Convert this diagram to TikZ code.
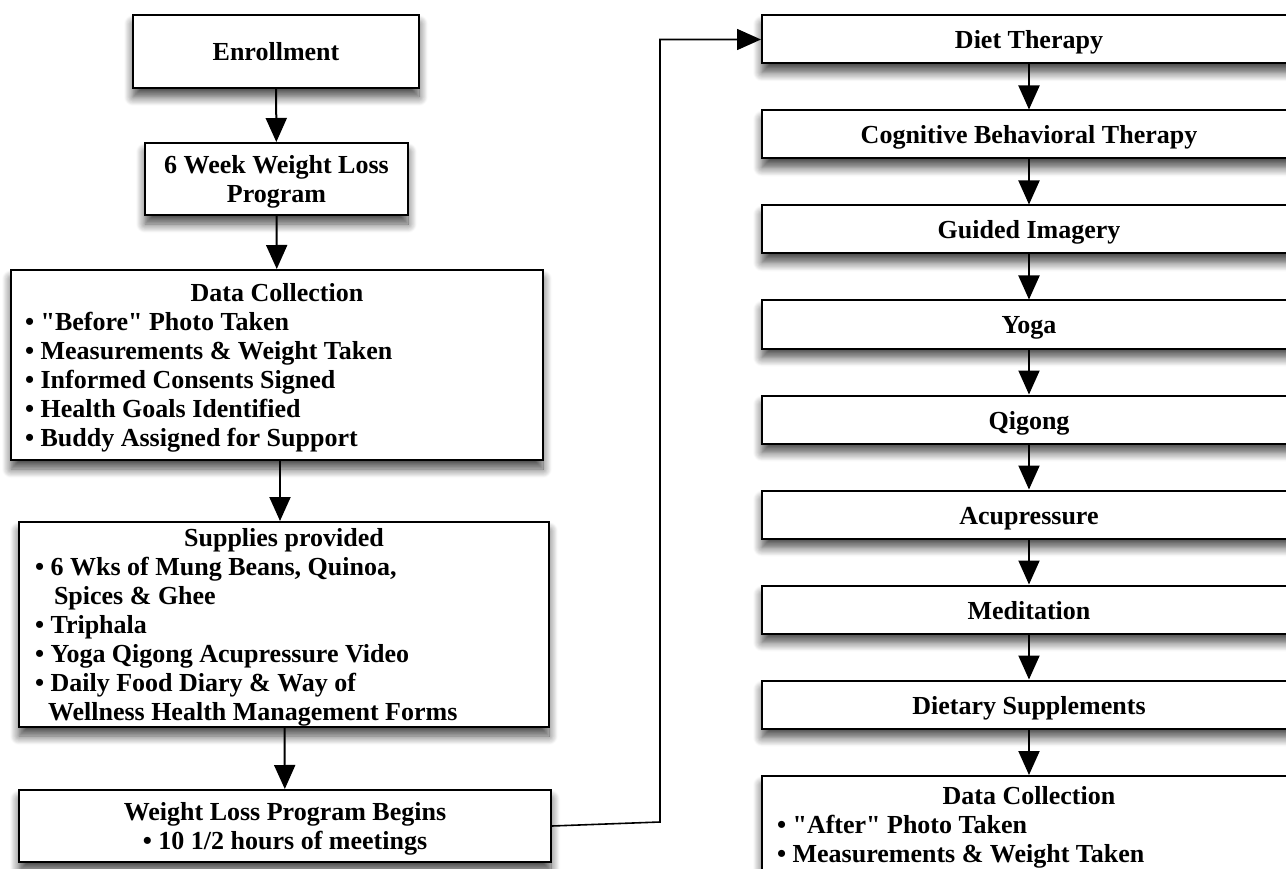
\documentclass[tikz,border=0pt]{standalone}
\usepackage{fontspec}
\setmainfont{Liberation Serif}
\usetikzlibrary{arrows.meta,shadows.blur}
\tikzset{
  stagebox/.style={draw, line width=2pt, fill=white, inner xsep=0pt, inner ysep=0pt,
    text depth=0pt, font=\bfseries\fontsize{26}{29}\selectfont,
    blur shadow={shadow xshift=0pt, shadow yshift=-9pt, shadow blur radius=9pt,
      shadow blur steps=12, shadow opacity=72}},
  rightbox/.style={stagebox, minimum width=534pt, minimum height=48pt, text height=19pt},
  flow/.style={line width=2pt, -{Triangle[length=24pt,width=21pt]}},
}
\begin{document}
\begin{tikzpicture}[x=1pt, y=-1pt]
\useasboundingbox (0,0) rectangle (1286,869);
\clip (0,0) rectangle (1286,869);

% left column
\node[stagebox, minimum width=286pt, minimum height=73pt, text height=18pt] (enroll) at (276,51.5)
  {Enrollment};
\node[stagebox, minimum width=263pt, minimum height=72pt, align=center] (program) at (276.5,179)
  {6 Week Weight Loss\\Program};
\node[stagebox, minimum width=532pt, minimum height=190pt, align=left] (collectA) at (277,365)
  {\makebox[504pt]{Data Collection}\\
   • \textquotedbl Before\textquotedbl{} Photo Taken\\
   • Measurements \& Weight Taken\\
   • Informed Consents Signed\\
   • Health Goals Identified\\
   • Buddy Assigned for Support};
\node[stagebox, minimum width=530pt, minimum height=205pt, align=left] (supplies) at (284,624.5)
  {\makebox[498pt]{Supplies provided}\\
   • 6 Wks of Mung Beans, Quinoa,\\
   \hspace*{19pt}Spices \& Ghee\\
   • Triphala\\
   • Yoga Qigong Acupressure Video\\
   • Daily Food Diary \& Way of\\
   \hspace*{13pt}Wellness Health Management Forms};
\node[stagebox, minimum width=532pt, minimum height=72pt, align=center] (begins) at (285,826)
  {Weight Loss Program Begins\\• 10 1/2 hours of meetings};

\draw[flow] (enroll) -- (program);
\draw[flow] (program) -- (collectA);
\draw[flow] (collectA.south -| 280,0) -- (supplies.north -| 280,0);
\draw[flow] (supplies) -- (begins);

% right column
\foreach \name/\label [count=\i from 0] in {diet/Diet Therapy, cbt/Cognitive Behavioral Therapy,
    imagery/Guided Imagery, yoga/Yoga, qigong/Qigong, acu/Acupressure,
    medit/Meditation, suppl/Dietary Supplements}
  \node[rightbox] (\name) at (1029,39.5+95*\i) {\label};
\node[stagebox, anchor=north, minimum width=534pt, minimum height=97pt, align=left] (collectB)
  at (1029,775)
  {\makebox[504pt]{Data Collection}\\
   • \textquotedbl After\textquotedbl{} Photo Taken\\
   • Measurements \& Weight Taken};

\foreach \a/\b in {diet/cbt, cbt/imagery, imagery/yoga, yoga/qigong, qigong/acu,
    acu/medit, medit/suppl, suppl/collectB}
  \draw[flow] (\a) -- (\b);

% link between the columns
\draw[flow, line width=1.6pt] (begins.east) -- ++(108,-4) |- (diet.west);
\end{tikzpicture}
\end{document}
